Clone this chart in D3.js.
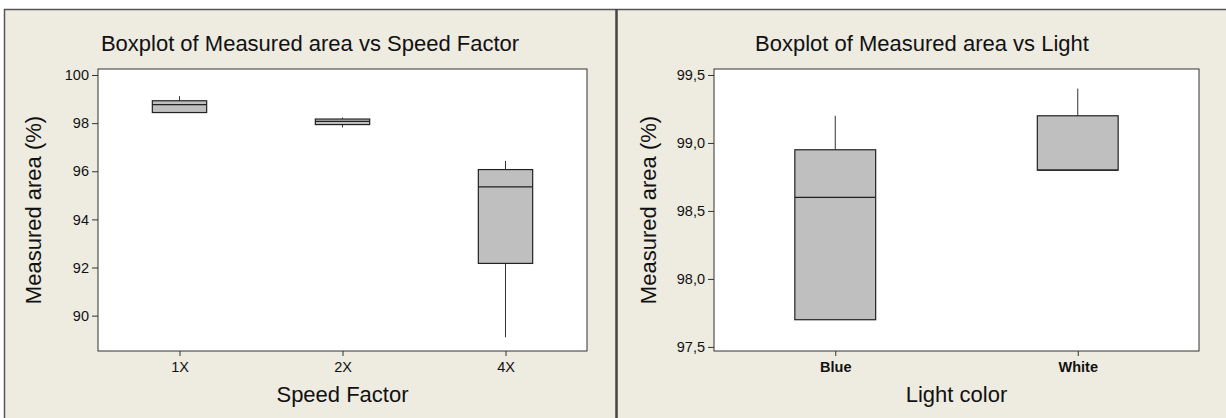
<!DOCTYPE html>
<html><head><meta charset="utf-8">
<script src="https://cdn.jsdelivr.net/npm/d3@7"></script>
<style>html,body{margin:0;padding:0;background:#fff;}svg{display:block;font-family:"Liberation Sans",Arial,sans-serif;}</style>
</head><body>
<svg id="chart" width="1226" height="418"></svg>
<script>
// ---- data ----
const speedCats = ["1X", "2X", "4X"];
const speedMin  = [98.44, 97.82, 89.10];
const speedQ1   = [98.44, 97.94, 92.17];
const speedMed  = [98.77, 98.07, 95.35];
const speedQ3   = [98.93, 98.17, 96.07];
const speedMax  = [99.12, 98.23, 96.43];
const speedTicks = [90, 92, 94, 96, 98, 100];

const lightCats = ["Blue", "White"];
const lightMin  = [97.70, 98.80];
const lightQ1   = [97.70, 98.80];
const lightMed  = [98.60, 98.80];
const lightQ3   = [98.95, 99.20];
const lightMax  = [99.20, 99.40];
const lightTicks = [97.5, 98.0, 98.5, 99.0, 99.5];

const svg = d3.select("#chart");
const BG = "#EEEBE1";
const FONT = "Liberation Sans, Arial, sans-serif";

// panel backgrounds & frame
svg.append("rect").attr("x", 4).attr("y", 9).attr("width", 1222).attr("height", 409).attr("fill", BG);
svg.append("line").attr("x1", 4).attr("x2", 1226).attr("y1", 9.5).attr("y2", 9.5).attr("stroke", "#555").attr("stroke-width", 1.5);
svg.append("line").attr("x1", 4.5).attr("x2", 4.5).attr("y1", 9).attr("y2", 418).attr("stroke", "#555").attr("stroke-width", 1.5);
svg.append("line").attr("x1", 616.5).attr("x2", 616.5).attr("y1", 9).attr("y2", 418).attr("stroke", "#444").attr("stroke-width", 2.5);

function panel(opts) {
  const g = svg.append("g");
  const {left, right, top, bottom, cats, mn, q1, med, q3, mx, ticks, domain, fmt, tickBold, title, xTitle, panelL, panelR, yTitleX} = opts;
  const x = d3.scalePoint().domain(cats).range([left, right]).padding(0.5);
  const y = d3.scaleLinear().domain(domain).range([bottom, top]);
  const bw = x.step() / 3;

  g.append("rect").attr("x", left).attr("y", top).attr("width", right - left).attr("height", bottom - top)
    .attr("fill", "#fff").attr("stroke", "#333").attr("stroke-width", 1);

  const yAxis = d3.axisLeft(y).tickValues(ticks).tickSize(6).tickPadding(3).tickFormat(fmt);
  const ya = g.append("g").attr("transform", `translate(${left},0)`).call(yAxis);
  ya.select(".domain").remove();
  ya.selectAll("line").attr("stroke", "#333");
  ya.selectAll("text").attr("font-size", 14.5).attr("fill", "#111").attr("font-family", FONT);

  const xAxis = d3.axisBottom(x).tickSize(5).tickPadding(6);
  const xa = g.append("g").attr("transform", `translate(0,${bottom})`).call(xAxis);
  xa.select(".domain").remove();
  xa.selectAll("line").attr("stroke", "#333");
  xa.selectAll("text").attr("font-size", 14.5).attr("fill", "#111")
    .attr("font-weight", tickBold ? "bold" : "normal").attr("font-family", FONT);

  cats.forEach((c, i) => {
    const cx = x(c);
    g.append("line").attr("x1", cx).attr("x2", cx).attr("y1", y(mx[i])).attr("y2", y(q3[i])).attr("stroke", "#333");
    g.append("line").attr("x1", cx).attr("x2", cx).attr("y1", y(q1[i])).attr("y2", y(mn[i])).attr("stroke", "#333");
    g.append("rect").attr("x", cx - bw / 2).attr("y", y(q3[i])).attr("width", bw).attr("height", y(q1[i]) - y(q3[i]))
      .attr("fill", "#BFBFBF").attr("stroke", "#222").attr("stroke-width", 1.2);
    g.append("line").attr("x1", cx - bw / 2).attr("x2", cx + bw / 2).attr("y1", y(med[i])).attr("y2", y(med[i]))
      .attr("stroke", "#222").attr("stroke-width", 1.2);
  });

  g.append("text").attr("x", (panelL + panelR) / 2).attr("y", 51).attr("text-anchor", "middle")
    .attr("font-size", 22).attr("fill", "#111").text(title);
  g.append("text").attr("x", (left + right) / 2).attr("y", 402).attr("text-anchor", "middle")
    .attr("font-size", 22).attr("fill", "#111").text(xTitle);
  g.append("text").attr("transform", `translate(${yTitleX},${(top + bottom) / 2}) rotate(-90)`)
    .attr("text-anchor", "middle").attr("font-size", 22).attr("fill", "#111").text("Measured area (%)");
}

panel({
  left: 98, right: 587, top: 69, bottom: 351,
  cats: speedCats, mn: speedMin, q1: speedQ1, med: speedMed, q3: speedQ3, mx: speedMax,
  ticks: speedTicks, domain: [88.53, 100.25], fmt: d3.format("d"), tickBold: false,
  title: "Boxplot of Measured area vs Speed Factor", xTitle: "Speed Factor",
  panelL: 4, panelR: 616, yTitleX: 41
});

panel({
  left: 714, right: 1199, top: 69, bottom: 351,
  cats: lightCats, mn: lightMin, q1: lightQ1, med: lightMed, q3: lightQ3, mx: lightMax,
  ticks: lightTicks, domain: [97.47, 99.544], fmt: d => d3.format(".1f")(d).replace(".", ","), tickBold: true,
  title: "Boxplot of Measured area vs Light", xTitle: "Light color",
  panelL: 618, panelR: 1226, yTitleX: 656
});
</script>
</body></html>
